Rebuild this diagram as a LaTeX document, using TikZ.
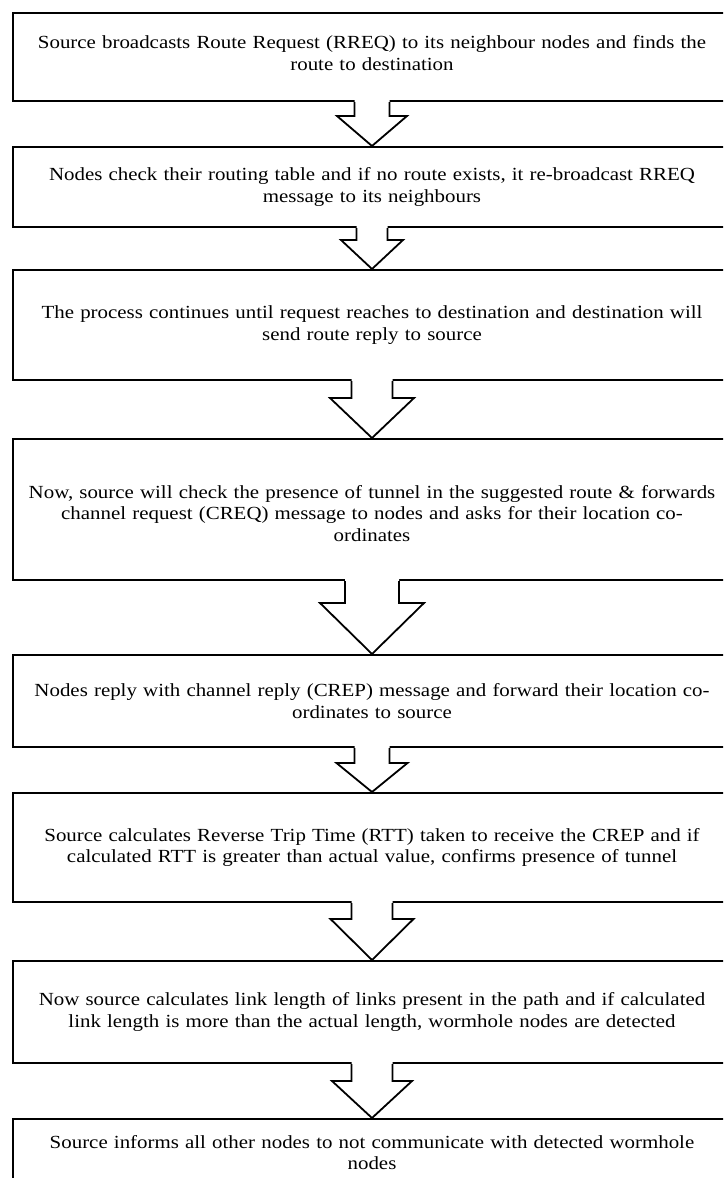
\documentclass[tikz,border=0pt]{standalone}
\usepackage{fontspec}
\setmainfont{Liberation Serif}[FakeStretch=1.13]
\usetikzlibrary{calc}

\tikzset{
  stepbox/.style={draw, line width=2pt, rectangle, minimum width=718pt,
    inner xsep=9pt, inner ysep=0pt, text width=700pt, align=center,
    font=\fontsize{18.5}{21.5}\selectfont},
  arrowline/.style={line width=1.8pt, line join=miter},
}

% block arrow: from, to, shaft half width, head half width, shoulder depth
\newcommand{\flowarrow}[5]{%
  \fill[white] let \p1=(#1.south), \p2=(#2.north) in
    (\x1-#3pt,\y1+3pt) -- (\x1-#3pt,\y1-#5pt) -- (\x1-#4pt,\y1-#5pt) -- (\p2)
    -- (\x1+#4pt,\y1-#5pt) -- (\x1+#3pt,\y1-#5pt) -- (\x1+#3pt,\y1+3pt) -- cycle;
  \draw[arrowline] let \p1=(#1.south), \p2=(#2.north) in
    (\x1-#3pt,\y1) -- (\x1-#3pt,\y1-#5pt) -- (\x1-#4pt,\y1-#5pt) -- (\p2)
    -- (\x1+#4pt,\y1-#5pt) -- (\x1+#3pt,\y1-#5pt) -- (\x1+#3pt,\y1);
}

\begin{document}
\begin{tikzpicture}[x=1pt,y=-1pt]
  \useasboundingbox (0,0) rectangle (723,1178);
  \clip (0,0) rectangle (723,1178);

  % steps
  \node[stepbox, minimum height=88pt, text depth=30pt] (b1) at (372,57)
    {Source broadcasts Route Request (RREQ) to its neighbour nodes and finds the\\ route to destination};
  \node[stepbox, minimum height=80pt] (b2) at (372,187)
    {Nodes check their routing table and if no route exists, it re-broadcast RREQ\\ message to its neighbours};
  \node[stepbox, minimum height=110pt] (b3) at (372,325)
    {The process continues until request reaches to destination and destination will\\ send route reply to source};
  \node[stepbox, minimum height=141pt, text depth=36pt] (b4) at (372,509.5)
    {Now, source will check the presence of tunnel in the suggested route \& forwards\\ channel request (CREQ) message to nodes and asks for their location co-\\ ordinates};
  \node[stepbox, minimum height=92pt] (b5) at (372,701)
    {Nodes reply with channel reply (CREP) message and forward their location co-\\ ordinates to source};
  \node[stepbox, minimum height=109pt] (b6) at (372,847.5)
    {Source calculates Reverse Trip Time (RTT) taken to receive the CREP and if\\ calculated RTT is greater than actual value, confirms presence of tunnel};
  \node[stepbox, minimum height=102pt] (b7) at (372,1012)
    {Now source calculates link length of links present in the path and if calculated\\ link length is more than the actual length, wormhole nodes are detected};
  \node[stepbox, minimum height=67pt] (b8) at (372,1152.5)
    {Source informs all other nodes to not communicate with detected wormhole\\ nodes};

  % arrows between steps
  \flowarrow{b1}{b2}{17.5}{35}{14}
  \flowarrow{b2}{b3}{15.5}{31}{12}
  \flowarrow{b3}{b4}{20.5}{42}{17}
  \flowarrow{b4}{b5}{27}{52}{22}
  \flowarrow{b5}{b6}{17.5}{35.5}{15}
  \flowarrow{b6}{b7}{20.5}{41.5}{16}
  \flowarrow{b7}{b8}{20.5}{40}{17}
\end{tikzpicture}
\end{document}
